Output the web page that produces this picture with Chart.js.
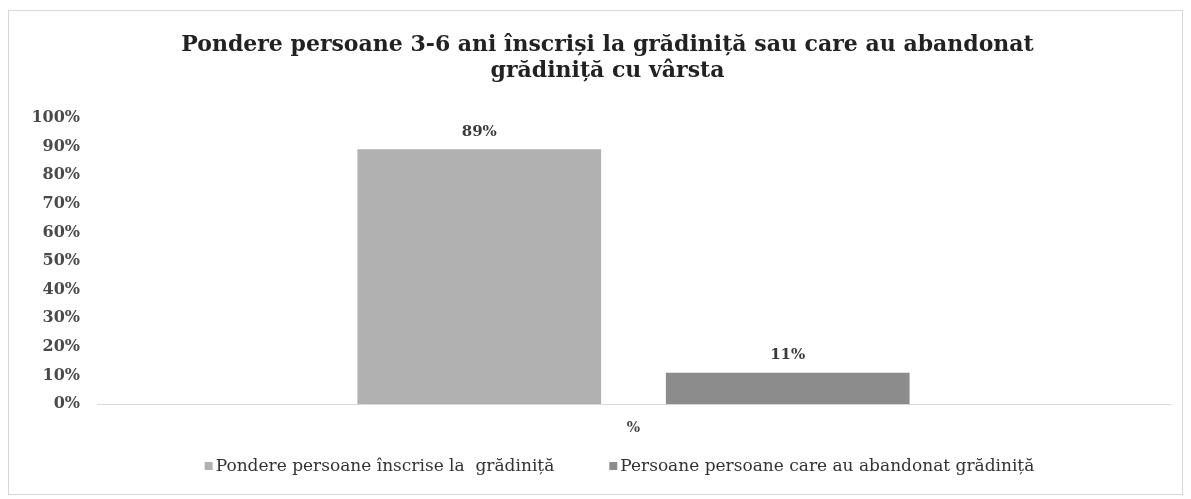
<!DOCTYPE html>
<html><head><meta charset="utf-8">
<script src="https://cdn.jsdelivr.net/npm/chart.js@4/dist/chart.umd.min.js"></script>
<style>
html,body{margin:0;padding:0;background:#fff;}
#wrap{position:absolute;left:8px;top:10px;width:1175px;height:485px;border:1px solid #d8d8d8;box-sizing:border-box;}
canvas{display:block;}
</style></head><body>
<div id="wrap"><canvas id="c" width="1173" height="483"></canvas></div>
<script>
const categories = ['%'];
const seriesNames = ['Pondere persoane înscrise la  grădiniță', 'Persoane persoane care au abandonat grădiniță'];
const enrolled = [89];
const abandoned = [11];
const yTicks = [0,10,20,30,40,50,60,70,80,90,100];
const colors = ['#b1b1b1', '#8c8c8c'];

const dataLabels = {
  id:'dataLabels',
  afterDatasetsDraw(chart){
    const ctx = chart.ctx;
    ctx.save();
    ctx.font = 'bold 15px "DejaVu Serif"';
    ctx.fillStyle = '#3a3a3a';
    ctx.textAlign = 'center';
    ctx.textBaseline = 'bottom';
    chart.data.datasets.forEach((ds,i)=>{
      chart.getDatasetMeta(i).data.forEach((bar,j)=>{
        ctx.fillText(ds.data[j] + '%', bar.x, bar.y - 10);
      });
    });
    ctx.restore();
  }
};

const bottomLegend = {
  id:'bottomLegend',
  afterDraw(chart){
    const ctx = chart.ctx;
    ctx.save();
    ctx.font = '17px "DejaVu Serif"';
    ctx.textBaseline = 'middle';
    const box = 8, gapText = 3, gapItems = 55;
    const items = chart.data.datasets.map(ds=>({t:ds.label, c:ds.backgroundColor, w:ctx.measureText(ds.label).width}));
    const total = items.reduce((s,it)=>s+box+gapText+it.w,0) + gapItems*(items.length-1);
    let x = (chart.chartArea.left+chart.chartArea.right)/2 - total/2 - 14;
    const y = 456;
    items.forEach(it=>{
      ctx.fillStyle = it.c;
      ctx.fillRect(x, y-box/2-1, box, box);
      x += box + gapText;
      ctx.fillStyle = '#333';
      ctx.textAlign = 'left';
      ctx.fillText(it.t, x, y);
      x += it.w + gapItems;
    });
    ctx.restore();
  }
};

const titleShift = {
  id:'titleShift',
  afterInit(chart){
    const tb = chart.titleBlock;
    if (!tb || tb.__shifted) return;
    const orig = tb.draw.bind(tb);
    tb.draw = function(){
      const ctx = this.ctx;
      ctx.save();
      ctx.translate(16, 0);
      orig();
      ctx.restore();
    };
    tb.__shifted = true;
  }
};

new Chart(document.getElementById('c'), {
  type:'bar',
  data:{
    labels: categories,
    datasets:[
      {label: seriesNames[0], data: enrolled, backgroundColor: colors[0], borderWidth:0},
      {label: seriesNames[1], data: abandoned, backgroundColor: colors[1], borderWidth:0}
    ]
  },
  options:{
    responsive:false,
    animation:false,
    categoryPercentage:0.575,
    barPercentage:0.79,
    layout:{padding:{left:4,right:12,top:0,bottom:41}},
    plugins:{
      title:{display:true, text:['Pondere persoane 3-6 ani înscriși la grădiniță sau care au abandonat','grădiniță cu vârsta'],
        font:{family:'"DejaVu Serif"', size:22, weight:'bold'}, color:'#222', padding:{top:21,bottom:33}, lineHeight:1.46},
      legend:{display:false},
      tooltip:{enabled:false}
    },
    scales:{
      x:{grid:{display:false, drawTicks:false}, border:{color:'#d9d9d9'},
         ticks:{color:'#444', padding:16, font:{family:'"DejaVu Serif"', size:14, weight:'bold'}}},
      y:{min:0,max:100, grid:{display:false}, border:{display:false},
         afterBuildTicks(ax){ ax.ticks = yTicks.map(v=>({value:v})); },
         afterFit(ax){ ax.width = 84; },
         ticks:{color:'#4a4a4a', padding:9, font:{family:'"DejaVu Serif"', size:16, weight:'bold'}, callback:v=>v+'%'}}
    }
  },
  plugins:[dataLabels, bottomLegend, titleShift]
});
</script>
</body></html>
